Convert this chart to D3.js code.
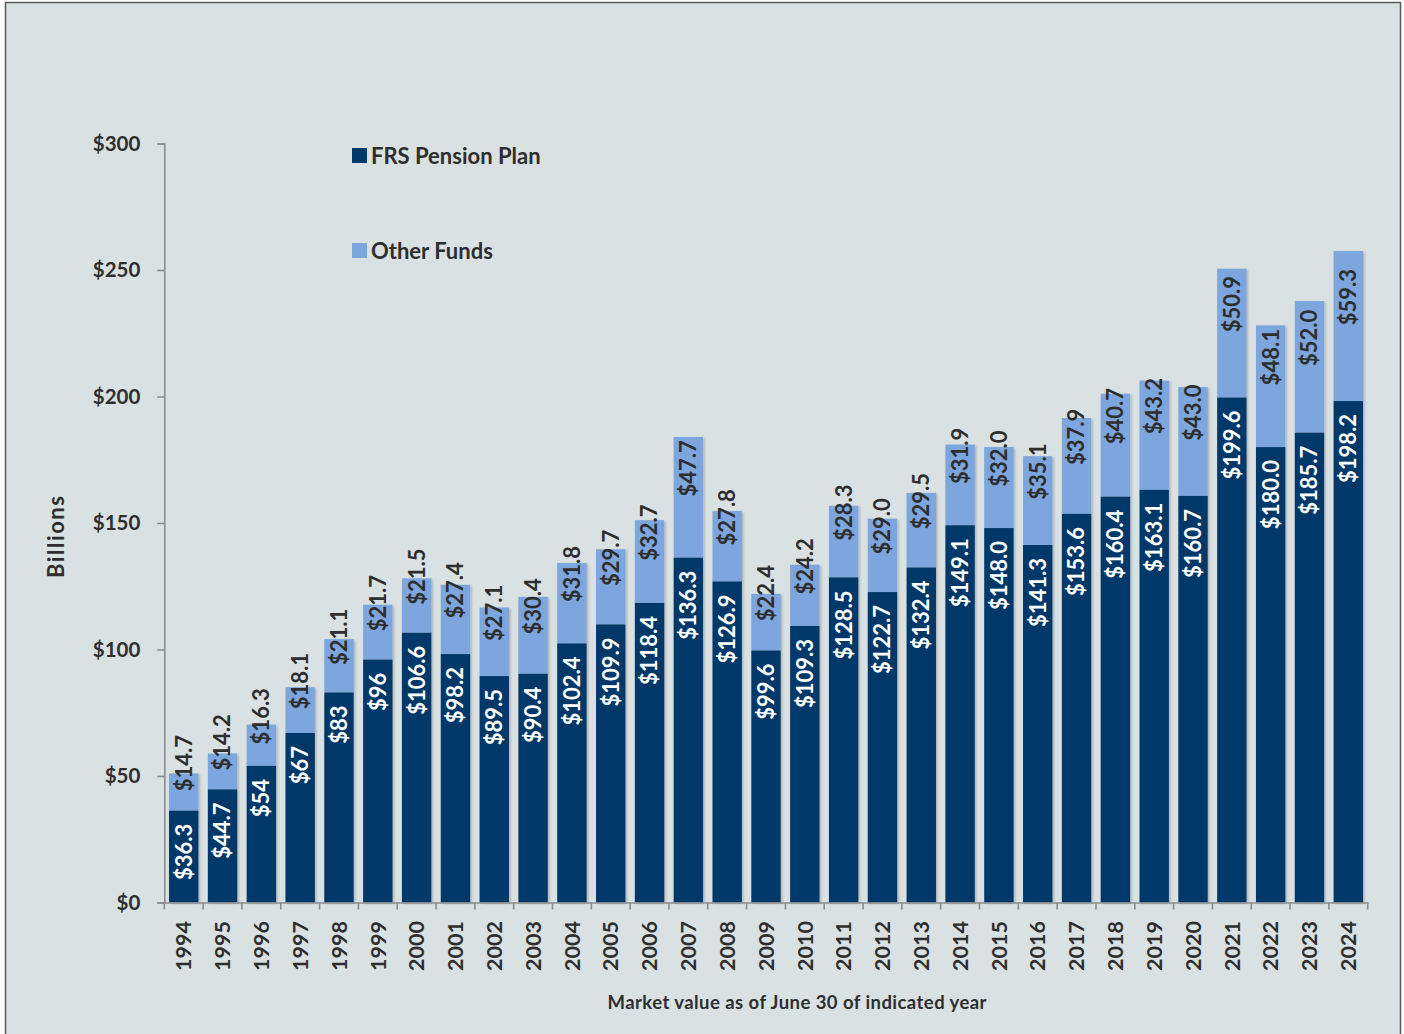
<!DOCTYPE html>
<html>
<head>
<meta charset="utf-8">
<script src="https://cdn.jsdelivr.net/npm/d3@7"></script>
<style>
  html, body { margin: 0; padding: 0; background: #ffffff; }
  svg { display: block; }
  text { font-family: Lato, "Open Sans", "DejaVu Sans", sans-serif; font-weight: bold; }
</style>
</head>
<body>
<svg id="chart" width="1404" height="1034"></svg>
<script>
// ---- data ----
const years = ["1994","1995","1996","1997","1998","1999","2000","2001","2002","2003","2004","2005","2006","2007","2008","2009","2010","2011","2012","2013","2014","2015","2016","2017","2018","2019","2020","2021","2022","2023","2024"];
const frsPension = [36.3,44.7,54,67,83,96,106.6,98.2,89.5,90.4,102.4,109.9,118.4,136.3,126.9,99.6,109.3,128.5,122.7,132.4,149.1,148.0,141.3,153.6,160.4,163.1,160.7,199.6,180.0,185.7,198.2];
const otherFunds = [14.7,14.2,16.3,18.1,21.1,21.7,21.5,27.4,27.1,30.4,31.8,29.7,32.7,47.7,27.8,22.4,24.2,28.3,29.0,29.5,31.9,32.0,35.1,37.9,40.7,43.2,43.0,50.9,48.1,52.0,59.3];
const frsLabels = ["$36.3","$44.7","$54","$67","$83","$96","$106.6","$98.2","$89.5","$90.4","$102.4","$109.9","$118.4","$136.3","$126.9","$99.6","$109.3","$128.5","$122.7","$132.4","$149.1","$148.0","$141.3","$153.6","$160.4","$163.1","$160.7","$199.6","$180.0","$185.7","$198.2"];
const otherLabels = ["$14.7","$14.2","$16.3","$18.1","$21.1","$21.7","$21.5","$27.4","$27.1","$30.4","$31.8","$29.7","$32.7","$47.7","$27.8","$22.4","$24.2","$28.3","$29.0","$29.5","$31.9","$32.0","$35.1","$37.9","$40.7","$43.2","$43.0","$50.9","$48.1","$52.0","$59.3"];
const seriesNames = ["FRS Pension Plan", "Other Funds"];
const yTicks = [0,50,100,150,200,250,300];
const yTickLabels = ["$0","$50","$100","$150","$200","$250","$300"];
const yAxisTitle = "Billions";
const xAxisTitle = "Market value as of June 30 of indicated year";

// ---- style ----
const C_DARK = "#00386b";
const C_LIGHT = "#7ba6dd";
const C_BG = "#d9e1e2";
const C_TEXT = "#2e2e2e";
const C_AXIS = "#8c8c8c";

const svg = d3.select("#chart");

// background frame
svg.append("rect").attr("x", 5.5).attr("y", 2.5).attr("width", 1395).attr("height", 1040)
  .attr("fill", C_BG).attr("stroke", "#5a5a5a").attr("stroke-width", 1.5);

const defs = svg.append("defs");
const f = defs.append("filter").attr("id", "sh").attr("x", "-20%").attr("y", "-20%").attr("width", "140%").attr("height", "140%");
f.append("feDropShadow").attr("dx", 1.5).attr("dy", 1).attr("stdDeviation", 1.2).attr("flood-color", "#000").attr("flood-opacity", 0.22);

const x = d3.scaleBand().domain(years).range([164.3, 1367.7]).paddingInner(0.243).paddingOuter(0.1215);
const y = d3.scaleLinear().domain([0, 300]).range([902.5, 143.5]);

const data = years.map((yr, i) => ({ yr, frs: frsPension[i], oth: otherFunds[i], fl: frsLabels[i], ol: otherLabels[i] }));

// bars
const g = svg.append("g");
const bars = g.selectAll("g.bar").data(data).join("g").attr("class", "bar").attr("filter", "url(#sh)");
bars.append("rect")
  .attr("x", d => x(d.yr)).attr("width", x.bandwidth())
  .attr("y", d => y(d.frs + d.oth)).attr("height", d => y(d.frs) - y(d.frs + d.oth))
  .attr("fill", C_LIGHT);
bars.append("rect")
  .attr("x", d => x(d.yr)).attr("width", x.bandwidth())
  .attr("y", d => y(d.frs)).attr("height", d => y(0) - y(d.frs))
  .attr("fill", C_DARK);

// y axis
const yAxis = d3.axisLeft(y).tickValues(yTicks).tickSize(7).tickPadding(17)
  .tickFormat((d, i) => yTickLabels[i]);
const ya = svg.append("g").attr("transform", "translate(164.3,0)").call(yAxis);
ya.select(".domain").attr("stroke", C_AXIS).attr("stroke-width", 1.6);
ya.selectAll(".tick line").attr("stroke", C_AXIS).attr("stroke-width", 1.6);
ya.selectAll(".tick text").attr("fill", C_TEXT).style("font-size", "20.5px").style("font-family", "Lato, sans-serif").style("font-weight", "bold");

// x axis
const xa = svg.append("g").attr("transform", `translate(0,${y(0)})`)
  .call(d3.axisBottom(x).tickSize(0).tickFormat(""));
xa.select(".domain").attr("stroke", C_AXIS).attr("stroke-width", 1.6);
// ticks at band boundaries
const bounds = years.map(yr => x(yr) - x.step() * x.paddingInner() / 2).concat([x(years[years.length - 1]) + x.bandwidth() + x.step() * x.paddingInner() / 2]);
svg.append("g").selectAll("line").data(bounds).join("line")
  .attr("x1", d => d).attr("x2", d => d).attr("y1", y(0)).attr("y2", y(0) + 7)
  .attr("stroke", C_AXIS).attr("stroke-width", 1.6);

// year labels
svg.append("g").selectAll("text").data(years).join("text")
  .attr("transform", d => `translate(${x(d) + x.bandwidth() / 2},921) rotate(-90)`)
  .attr("text-anchor", "end").attr("dy", "0.36em")
  .attr("fill", C_TEXT).style("font-size", "21.5px")
  .text(d => d);

// FRS labels
svg.append("g").selectAll("text").data(data).join("text")
  .attr("transform", d => `translate(${x(d.yr) + x.bandwidth() / 2},${y(d.frs) + 13}) rotate(-90)`)
  .attr("text-anchor", "end").attr("dy", "0.36em")
  .attr("fill", "#ffffff").style("font-size", "22px")
  .text(d => d.fl);

// Other funds labels
svg.append("g").selectAll("text").data(data).join("text")
  .attr("transform", d => `translate(${x(d.yr) + x.bandwidth() / 2},${(y(d.frs) + y(d.frs + d.oth)) / 2 - 29}) rotate(-90)`)
  .attr("text-anchor", "middle").attr("dy", "0.36em")
  .attr("fill", C_TEXT).style("font-size", "22px")
  .text(d => d.ol);

// legend
const leg = svg.append("g");
const legY = [148, 243];
const legColors = [C_DARK, C_LIGHT];
seriesNames.forEach((n, i) => {
  leg.append("rect").attr("x", 352).attr("y", legY[i]).attr("width", 15).attr("height", 15).attr("fill", legColors[i]);
  leg.append("text").attr("x", 371).attr("y", legY[i] + 15.5).attr("fill", C_TEXT)
    .style("font-size", "22px").text(n);
});

// axis titles
svg.append("text").attr("transform", "translate(64,537) rotate(-90)").attr("text-anchor", "middle")
  .attr("fill", C_TEXT).style("font-size", "22px")
  .attr("textLength", 82).attr("lengthAdjust", "spacing").text(yAxisTitle);
svg.append("text").attr("x", 797).attr("y", 1009).attr("text-anchor", "middle")
  .attr("fill", C_TEXT).style("font-size", "18.5px")
  .attr("textLength", 379).attr("lengthAdjust", "spacing").text(xAxisTitle);
</script>
</body>
</html>
